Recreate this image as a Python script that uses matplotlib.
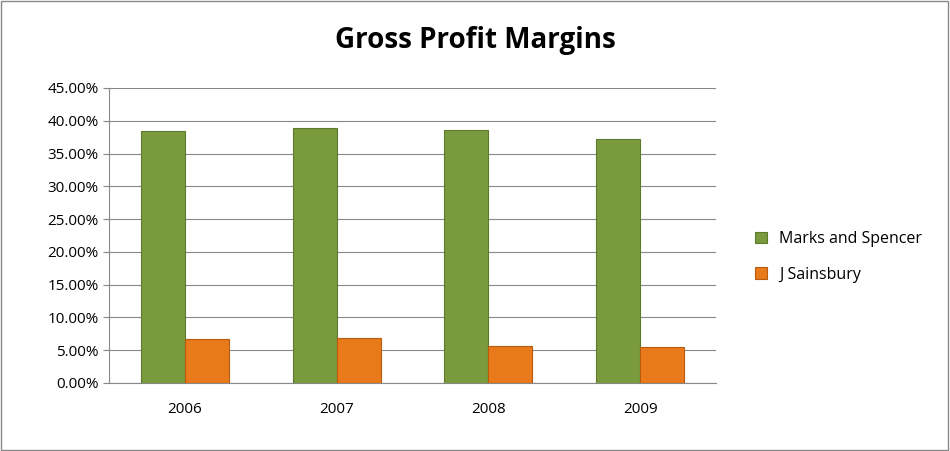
import matplotlib
matplotlib.use("Agg")
import matplotlib.pyplot as plt
from matplotlib.ticker import FuncFormatter
import numpy as np

plt.rcParams['font.family'] = ['Open Sans', 'DejaVu Sans']

years = ["2006", "2007", "2008", "2009"]
ms = [38.4, 38.9, 38.6, 37.2]
js = [6.7, 6.9, 5.6, 5.5]

fig = plt.figure(figsize=(9.5, 4.51), dpi=100)
fig.patch.set_facecolor("white")
fig.add_artist(plt.Rectangle((0.001, 0.002), 0.997, 0.995, transform=fig.transFigure,
                             fill=False, edgecolor="#888888", linewidth=1))
ax = fig.add_axes([109/950, 1-383/451, (716-109)/950, (383-88)/451])
x = np.arange(len(years))
w = 0.29
ax.bar(x - w/2, ms, w, color="#7a9a3e", edgecolor="#5d7a2c", linewidth=0.8, label="Marks and Spencer", zorder=3)
ax.bar(x + w/2, js, w, color="#e87a1c", edgecolor="#b85a10", linewidth=0.8, label="J Sainsbury", zorder=3)
ax.set_xlim(-0.5, 3.5)
ax.set_ylim(0, 45)
ax.set_yticks(np.arange(0, 46, 5))
ax.yaxis.set_major_formatter(FuncFormatter(lambda v, p: f"{v:.2f}%"))
ax.set_xticks(x)
ax.set_xticklabels(years)
ax.grid(axis="y", color="#888888", linewidth=0.8, zorder=0)
for s in ["top", "right"]:
    ax.spines[s].set_visible(False)
for s in ["left", "bottom"]:
    ax.spines[s].set_color("#888888")
ax.tick_params(labelsize=11, length=4, color="#888888")
ax.tick_params(axis="x", length=0, pad=14)
fig.text(0.5, 0.91, "Gross Profit Margins", ha="center", va="center", fontsize=20, fontweight="bold")
fig.legend(loc="center left", bbox_to_anchor=(0.78, 0.43), frameon=False, fontsize=11.5,
           handlelength=0.7, handleheight=0.7, labelspacing=1.2)
fig.savefig("out.png", dpi=100)
